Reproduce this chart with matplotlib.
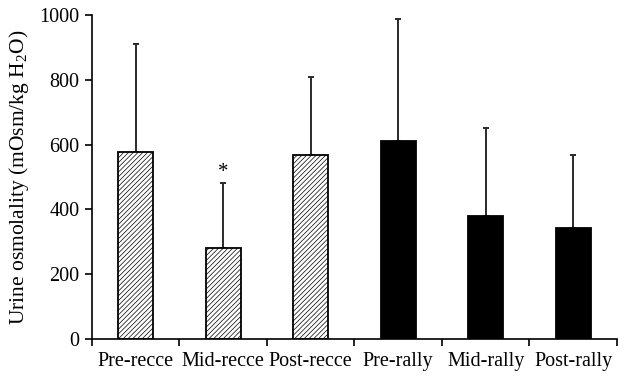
import matplotlib
matplotlib.use("Agg")
import matplotlib.pyplot as plt
import numpy as np

categories = ["Pre-recce", "Mid-recce", "Post-recce", "Pre-rally", "Mid-rally", "Post-rally"]
means = [577, 281, 568, 611, 380, 343]
sds = [333, 200, 241, 377, 271, 225]
hatched = [True, True, True, False, False, False]
significant = [False, True, False, False, False, False]

plt.rcParams["font.family"] = ["Liberation Serif", "DejaVu Serif"]
plt.rcParams["mathtext.fontset"] = "custom"
plt.rcParams["mathtext.rm"] = "Liberation Serif"
plt.rcParams["hatch.color"] = "#b0b0b0"
plt.rcParams["hatch.linewidth"] = 0.5


def main():
    fig = plt.figure(figsize=(6.33, 3.76), dpi=100)
    ax = fig.add_axes([0.1453, 0.0984, 0.8294, 0.8616])
    x = np.arange(len(categories))

    for i in range(len(categories)):
        if hatched[i]:
            ax.bar(x[i], means[i], width=0.4, color="white", edgecolor="black",
                   linewidth=1.3, hatch="///////", zorder=2)
        else:
            ax.bar(x[i], means[i], width=0.4, color="black", edgecolor="black",
                   linewidth=1.3, zorder=2)
    ax.errorbar(x, means, yerr=[np.zeros(len(sds)), sds], fmt="none",
                ecolor="#2a2a2a", elinewidth=1.4, capsize=2, capthick=1.4, zorder=1)

    for i in range(len(categories)):
        if significant[i]:
            ax.text(x[i], means[i] + sds[i] + 5, "*", ha="center", va="bottom", fontsize=15)

    ax.set_xlim(-0.5, len(categories) - 0.5)
    ax.set_ylim(0, 1000)
    ax.set_yticks([0, 200, 400, 600, 800, 1000])
    ax.set_xticks(x)
    ax.set_xticklabels(categories)
    ax.set_xticks(np.arange(len(categories) + 1) - 0.5, minor=True)
    ax.tick_params(axis="x", which="major", length=0, pad=9, labelsize=14.5)
    ax.tick_params(axis="x", which="minor", length=5, width=1.2, direction="out")
    ax.tick_params(axis="y", length=5, width=1.2, direction="out", labelsize=14.5, pad=4)
    ax.spines["top"].set_visible(False)
    ax.spines["right"].set_visible(False)
    ax.spines["left"].set_linewidth(1.2)
    ax.spines["bottom"].set_linewidth(1.2)
    ax.set_ylabel("Urine osmolality (mOsm/kg H$_2$O)", fontsize=15.5, labelpad=6)

    fig.savefig("out.png", dpi=100)


if __name__ == "__main__":
    main()
